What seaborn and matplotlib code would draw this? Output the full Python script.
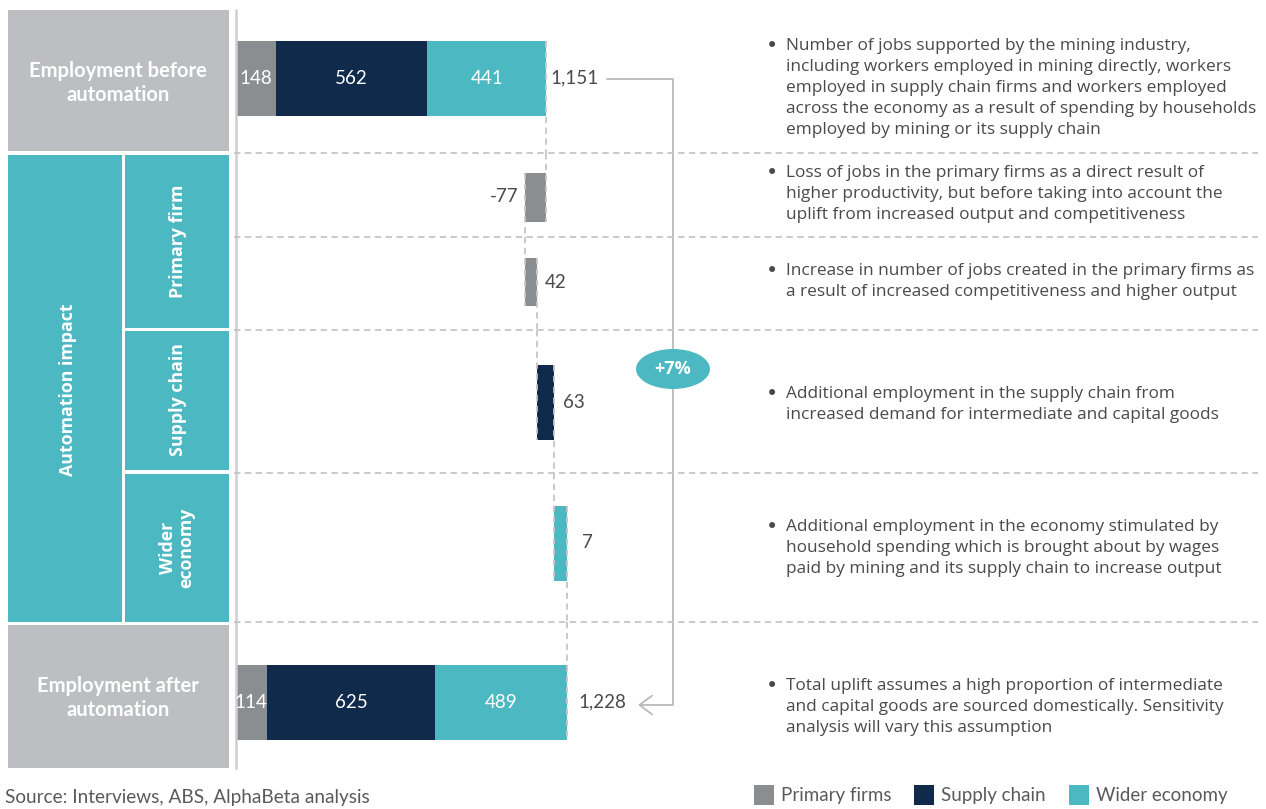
import matplotlib
matplotlib.use("Agg")
import matplotlib.pyplot as plt
import seaborn as sns
from matplotlib.patches import Rectangle, Ellipse, FancyArrowPatch
from matplotlib.path import Path
from matplotlib.lines import Line2D

# ------------------------------------------------------------------ data
segments = ["Primary firms", "Supply chain", "Wider economy"]
before_values = [148, 562, 441]
after_values = [114, 625, 489]
impact_labels = ["-77", "42", "63", "7"]
impact_lengths = [-77, 42, 63, 49]          # bar lengths as drawn in the picture
impact_segments = ["Primary firms", "Primary firms", "Supply chain", "Wider economy"]
uplift_label = "+7%"
row_names = ["Employment before automation", "Primary firm loss", "Primary firm uplift",
             "Supply chain", "Wider economy", "Employment after automation"]
notes = [
    ["Number of jobs supported by the mining industry,",
     "including workers employed in mining directly, workers",
     "employed in supply chain firms and workers employed",
     "across the economy as a result of spending by households",
     "employed by mining or its supply chain"],
    ["Loss of jobs in the primary firms as a direct result of",
     "higher productivity, but before taking into account the",
     "uplift from increased output and competitiveness"],
    ["Increase in number of jobs created in the primary firms as",
     "a result of increased competitiveness and higher output"],
    ["Additional employment in the supply chain from",
     "increased demand for intermediate and capital goods"],
    ["Additional employment in the economy stimulated by",
     "household spending which is brought about by wages",
     "paid by mining and its supply chain to increase output"],
    ["Total uplift assumes a high proportion of intermediate",
     "and capital goods are sourced domestically. Sensitivity",
     "analysis will vary this assumption"],
]
source_text = "Source: Interviews, ABS, AlphaBeta analysis"

# ------------------------------------------------------------------ style
GREY, NAVY, TEAL = "#8b8e91", "#0f2a4a", "#4bb8c2"
colors = dict(zip(segments, [GREY, NAVY, TEAL]))
BOX_GREY = "#bdbec1"
TXT = "#4a4a4a"
DASH = "#c6c6c6"

sns.set_theme(style="white")
plt.rcParams["font.family"] = ["Lato", "DejaVu Sans"]

W, H = 1266, 809
fig = plt.figure(figsize=(W / 100, H / 100), dpi=100)


def fx(x):
    return x / W


def fy(y):
    return 1 - y / H


# layout (pixels)
X0, X1 = 236, 1258
SCALE = 0.2695                       # px per job (thousands)
bands = [(10, 153), (153, 237), (237, 330), (330, 473), (473, 622), (622, 768)]
centers = [78, 197, 282, 402, 543, 702]
heights = [75, 49, 48, 75, 75, 75]

axes = []
for (top, bot), c in zip(bands, centers):
    ax = fig.add_axes([fx(X0), fy(bot), (X1 - X0) / W, (bot - top) / H])
    ax.patch.set_alpha(0)
    axes.append(ax)


def finish(ax, i):
    top, bot = bands[i]
    c = centers[i]
    ax.set_xlim(0, (X1 - X0) / SCALE)
    ax.set_ylim(bot - c, top - c)
    ax.set_xticks([]); ax.set_yticks([])
    ax.set_xlabel(""); ax.set_ylabel("")
    for s in ["top", "right", "bottom"]:
        ax.spines[s].set_visible(False)
    ax.spines["left"].set_color("#cfcfcf")
    ax.spines["left"].set_linewidth(1.8)


def stacked(ax, i, values, total_offset):
    left = 0
    for seg, v in zip(segments, values):
        sns.barplot(x=[v], y=[row_names[i]], orient="h", color=colors[seg],
                    width=heights[i], left=left, saturation=1, linewidth=0,
                    errorbar=None, ax=ax)
        ax.text(left + v / 2, 0, f"{v:,}", ha="center", va="center",
                color="white", fontsize=13.5)
        left += v
    ax.annotate(f"{left:,}", xy=(left, 0), xytext=(total_offset, 0),
                textcoords="offset pixels", ha="left", va="center",
                color=TXT, fontsize=13.5)
    return left


# before bar
before_total = stacked(axes[0], 0, before_values, 4)
finish(axes[0], 0)

# waterfall steps
running = before_total
ends = [before_total]
label_offsets = [-7, 8, 9, 15]
for k, (lab, v, seg) in enumerate(zip(impact_labels, impact_lengths, impact_segments)):
    i = k + 1
    ax = axes[i]
    sns.barplot(x=[v], y=[row_names[i]], orient="h", color=colors[seg],
                width=heights[i], left=running, saturation=1, linewidth=0,
                errorbar=None, ax=ax)
    end = running + v
    ax.annotate(lab, xy=(end, 0), xytext=(label_offsets[k], 0),
                textcoords="offset pixels", ha="right" if v < 0 else "left",
                va="center", color=TXT, fontsize=13.5)
    finish(ax, i)
    running = end
    ends.append(end)

# after bar
after_total = stacked(axes[5], 5, after_values, 11)
finish(axes[5], 5)

# connectors between consecutive bars (dashed verticals)
dash_style = dict(color=DASH, lw=1.3, linestyle=(0, (3.5, 2.5)), clip_on=False, zorder=3)
for i in range(5):
    xv = ends[i]
    a, b = axes[i], axes[i + 1]
    ta, ba = bands[i]
    tb, bb = bands[i + 1]
    a.plot([xv, xv], [-heights[i] / 2, ba - centers[i]], **dash_style)
    b.plot([xv, xv], [tb - centers[i + 1], heights[i + 1] / 2], **dash_style)

# horizontal dashed separators
for top, _ in bands[1:]:
    fig.add_artist(Line2D([fx(X0 - 2), fx(X1)], [fy(top), fy(top)], color=DASH,
                          lw=1.3, linestyle=(0, (3.5, 2.5))))

# left label panel
def box(x0, y0, x1, y1, col):
    fig.add_artist(Rectangle((fx(x0), fy(y1)), fx(x1) - fx(x0), fy(y0) - fy(y1),
                             facecolor=col, edgecolor="none"))

box(8, 10, 229, 151, BOX_GREY)
box(8, 155, 122, 622, TEAL)
box(125, 155, 229, 328, TEAL)
box(125, 331, 229, 470, TEAL)
box(125, 474, 229, 622, TEAL)
box(8, 625, 229, 768, BOX_GREY)

bold_h = dict(color="white", fontsize=14.5, fontweight="bold", ha="center", va="center",
              linespacing=1.2, family=["Lato", "DejaVu Sans"])
fig.text(fx(118), fy(83), "Employment before\nautomation", **bold_h)
fig.text(fx(118), fy(698), "Employment after\nautomation", **bold_h)
bold_v = dict(color="white", fontsize=12.8, fontweight="bold", ha="center", va="center",
              rotation=90, linespacing=1.05, family=["Open Sans", "DejaVu Sans"])
fig.text(fx(68), fy(390), "Automation impact", **bold_v)
fig.text(fx(178), fy(241), "Primary firm", **bold_v)
fig.text(fx(178), fy(400), "Supply chain", **bold_v)
fig.text(fx(177), fy(548), "Wider\neconomy", multialignment="center", **bold_v)

# notes on the right
note_tops = [46, 173, 271, 394, 527, 686]
for lines, y0 in zip(notes, note_tops):
    fig.text(fx(766), fy(y0), "•", ha="left", va="center", color=TXT, fontsize=15,
             family=["DejaVu Sans"])
    for j, line in enumerate(lines):
        fig.text(fx(786), fy(y0 + 21 * j), line, ha="left", va="center", color=TXT,
                 fontsize=12.4, family=["Open Sans", "DejaVu Sans"])

# bracket with arrow and uplift bubble
BR = "#b9b9b9"
verts = [(fx(607), fy(79)), (fx(673), fy(79)), (fx(673), fy(705)), (fx(638), fy(705))]
path = Path(verts, [Path.MOVETO, Path.LINETO, Path.LINETO, Path.LINETO])
fig.add_artist(FancyArrowPatch(path=path, arrowstyle="->,head_length=0.6,head_width=0.45",
                               mutation_scale=15, color=BR, lw=1.3,
                               transform=fig.transFigure))
fig.add_artist(Ellipse((fx(673), fy(369)), 74 / W, 40 / H, facecolor=TEAL,
                       edgecolor="none", transform=fig.transFigure))
fig.text(fx(673), fy(369), uplift_label, ha="center", va="center", color="white",
         fontsize=13, fontweight="bold", family=["Open Sans", "DejaVu Sans"])

# legend
leg_x = [754, 914, 1069]
for seg, lx in zip(segments, leg_x):
    fig.add_artist(Rectangle((fx(lx), fy(805)), 20 / W, 20 / H, facecolor=colors[seg],
                             edgecolor="none"))
    fig.text(fx(lx + 27), fy(796), seg, ha="left", va="center", color="#5a5a5a",
             fontsize=13.5)

fig.text(fx(5), fy(797), source_text, ha="left", va="center", color="#5a5a5a",
         fontsize=13.7)

fig.savefig("out.png", dpi=100)
